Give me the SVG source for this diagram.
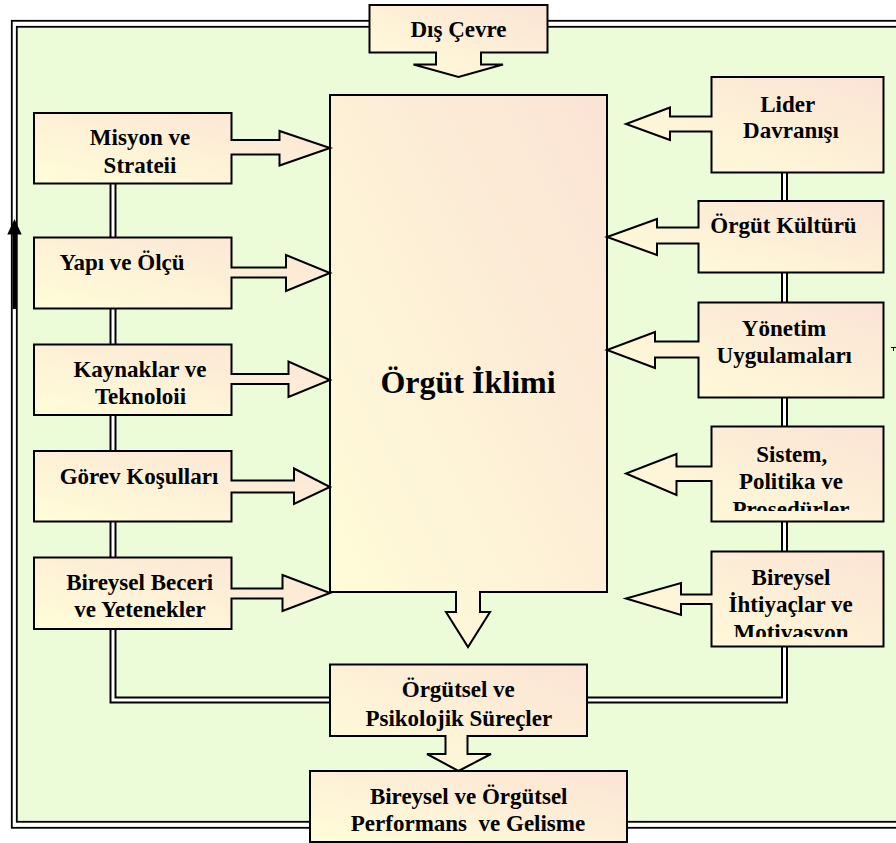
<svg xmlns="http://www.w3.org/2000/svg" width="896" height="843" viewBox="0 0 896 843">
<defs>
<linearGradient id="g" x1="0" y1="1" x2="1" y2="0">
<stop offset="0" stop-color="#FFFDD8"/>
<stop offset="1" stop-color="#FBE3D5"/>
</linearGradient>
<clipPath id="c1"><rect x="712" y="427" width="171" height="84"/></clipPath>
<clipPath id="c2"><rect x="712" y="552" width="171" height="85"/></clipPath>
</defs>
<style>
.s{fill:url(#g);stroke:#000;stroke-width:2;stroke-linejoin:miter}
text{font-family:"Liberation Serif","Times New Roman",serif;font-weight:bold;font-size:23px;fill:#000;text-anchor:middle}
.dl{fill:none;stroke:#000;stroke-width:7}
.dw{fill:none;stroke:#fff;stroke-width:3}
</style>
<rect width="896" height="843" fill="#fff"/>
<g id="frame">
<rect x="11.8" y="20.8" width="900" height="807" fill="#fff" stroke="#000" stroke-width="1.8"/>
<rect x="16.8" y="26.8" width="890" height="795" fill="#EDFCD8" stroke="#000" stroke-width="1.8"/>
</g>
<g id="connectors">
<path class="dl" d="M113,183 V700 H330"/>
<path class="dw" d="M113,183 V700 H330"/>
<path class="dl" d="M784.5,172 V700 H587"/>
<path class="dw" d="M784.5,172 V700 H587"/>
<path d="M14.4,232 V309" stroke="#000" stroke-width="3.5" fill="none"/>
<polygon points="7.3,234.5 14.5,219 21.7,234.5" fill="#000"/>
<path d="M891,347.5 H896 M893.5,347.5 V351" stroke="#000" stroke-width="1" fill="none"/>
</g>
<g id="dis-cevre">
<path class="s" d="M369.5,5 H547.5 V52.5 H481 V64.5 H503 L458.5,77 L413.5,64.5 H436 V52.5 H369.5 Z"/>
<text x="458.5" y="36.7">Dış Çevre</text>
</g>
<g id="orgut-iklimi">
<path class="s" d="M330,95 H607 V592 H480 V612 H490 L468,647 L446,612 H456 V592 H330 Z"/>
<text x="468" y="393" style="font-size:32px">Örgüt İklimi</text>
</g>
<g id="misyon">
<path class="s" d="M34,113 H231.5 V140 H279.5 V131 L330,148 L279.5,165.5 V154.5 H231.5 V183.5 H34 Z"/>
<text x="140" y="145">Misyon ve</text>
<text x="140" y="172.5">Strateii</text>
</g>
<g id="yapi">
<path class="s" d="M34,237.5 H231.5 V267.5 H286 V255 L330,273 L286,291 V277.5 H231.5 V308.5 H34 Z"/>
<text x="122" y="270">Yapı ve Ölçü</text>
</g>
<g id="kaynaklar">
<path class="s" d="M34,344.5 H231.5 V374 H288.5 V361.5 L330,380 L288.5,397 V384 H231.5 V415 H34 Z"/>
<text x="140" y="376.5">Kaynaklar ve</text>
<text x="140.5" y="403.5">Teknoloii</text>
</g>
<g id="gorev">
<path class="s" d="M34,451 H231.5 V480.5 H294 V468.5 L330,487 L294,504 V492.5 H231.5 V521.5 H34 Z"/>
<text x="139" y="483.5">Görev Koşulları</text>
</g>
<g id="beceri">
<path class="s" d="M34,557.5 H231.5 V588.5 H282.5 V575 L330,593 L282.5,611 V598.5 H231.5 V629 H34 Z"/>
<text x="139.7" y="590">Bireysel Beceri</text>
<text x="140" y="616.5">ve Yetenekler</text>
</g>
<g id="lider">
<path class="s" d="M883.5,77 V172.5 H711.5 V131.5 H670 V140 L626,124 L670,107.5 V116.5 H711.5 V77 Z"/>
<text x="787.7" y="111.5">Lider</text>
<text x="791" y="138">Davranışı</text>
</g>
<g id="kultur">
<path class="s" d="M883.5,201 V272.5 H698.5 V243.5 H657 V255 L607,237 L657,219 V227.5 H698.5 V201 Z"/>
<text x="783.5" y="233.3">Örgüt Kültürü</text>
</g>
<g id="yonetim">
<path class="s" d="M883.5,302.5 V397.5 H698.5 V357.5 H655 V368 L607,350 L655,332 V341.5 H698.5 V302.5 Z"/>
<text x="784" y="336">Yönetim</text>
<text x="784.3" y="363.3">Uygulamaları</text>
</g>
<g id="sistem">
<path class="s" d="M883.5,426.5 V521.5 H711.5 V481 H676.5 V495 L626,473.5 L676.5,454 V466.5 H711.5 V426.5 Z"/>
<g clip-path="url(#c1)">
<text x="791.8" y="461.5">Sistem,</text>
<text x="791" y="489">Politika ve</text>
<text x="791" y="517">Prosedürler</text>
</g>
</g>
<g id="ihtiyaclar">
<path class="s" d="M883.5,551.5 V646.5 H711.5 V604 H681 V615 L626,598.5 L681,583 V594.5 H711.5 V551.5 Z"/>
<g clip-path="url(#c2)">
<text x="791" y="584.5">Bireysel</text>
<text x="790.7" y="612">İhtiyaçlar ve</text>
<text x="791" y="640">Motivasyon</text>
</g>
</g>
<g id="surecler">
<path class="s" d="M330,664.5 H587 V736 H467.5 V754 H491 L458.5,771 L427,754 H445.5 V736 H330 Z"/>
<text x="458.3" y="697.3">Örgütsel ve</text>
<text x="458.8" y="726">Psikolojik Süreçler</text>
</g>
<g id="performans">
<rect class="s" x="310" y="771" width="317" height="71"/>
<text x="468.7" y="804.3">Bireysel ve Örgütsel</text>
<text x="468" y="830.7" style="white-space:pre">Performans  ve Gelisme</text>
</g>
</svg>
